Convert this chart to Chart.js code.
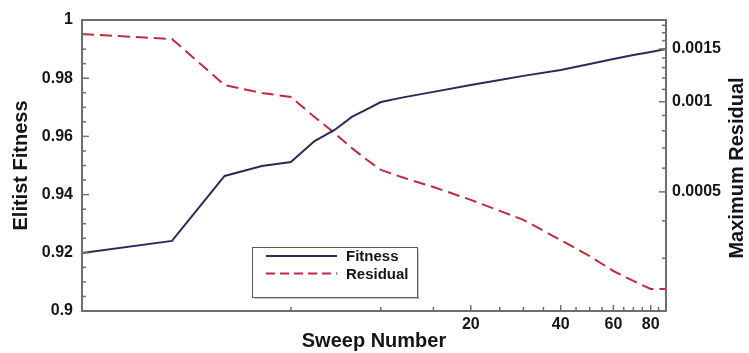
<!DOCTYPE html>
<html>
<head>
<meta charset="utf-8">
<script src="https://cdn.jsdelivr.net/npm/chart.js@4.4.0/dist/chart.umd.min.js"></script>
<style>
  html, body { margin: 0; padding: 0; background: #fff; }
</style>
</head>
<body>
<canvas id="myChart" width="749" height="353"></canvas>
<script>
// sweep numbers (x axis, log scale)
const sweeps = [1, 2, 3, 4, 5, 6, 7, 8, 9, 10, 12, 15, 20, 25, 30, 40, 50, 60, 70, 80, 90];
// elitist fitness (left axis)
const fitness = [0.9199, 0.9241, 0.9464, 0.9498, 0.9512, 0.9584, 0.9622, 0.9667, 0.9694, 0.9718,
                 0.9735, 0.9753, 0.9777, 0.9794, 0.9808, 0.9828, 0.9849, 0.9866, 0.988, 0.989, 0.99];
// maximum residual (right axis, log scale)
const residual = [0.001683, 0.00162, 0.001137, 0.00107, 0.001037, 0.000889, 0.000786, 0.0007, 0.000639, 0.000592,
                  0.000556, 0.000519, 0.00047, 0.000432, 0.000403, 0.000345, 0.000305, 0.000272, 0.000252, 0.000237, 0.000237];

// tick labels
const fitnessTicks = [0.9, 0.92, 0.94, 0.96, 0.98, 1];
const residualTicks = [0.0005, 0.001, 0.0015];
const sweepTicks = [20, 40, 60, 80];
// small unlabeled ticks
const fitnessMinor = [0.905, 0.91, 0.915, 0.925, 0.93, 0.935, 0.945, 0.95, 0.955,
                      0.965, 0.97, 0.975, 0.985, 0.99, 0.995];
const residualMinor = [0.0002, 0.0003, 0.0004, 0.0006, 0.0007, 0.0008, 0.0009,
                       0.0011, 0.0012, 0.0013, 0.0014, 0.0016, 0.0017, 0.0018];
const sweepMinor = [5, 10, 15, 25, 30, 35, 45, 50, 55, 65, 70, 75, 85];

const FONT = "'Liberation Sans', Arial, sans-serif";
const AXIS = '#6e6e6e';
const TEXT = '#151515';

// frame, inward ticks, legend box and right-hand title
const decor = {
  id: 'decor',
  afterDraw(chart) {
    const ctx = chart.ctx;
    const a = chart.chartArea;
    const sx = chart.scales.x, sy = chart.scales.y, sy2 = chart.scales.y2;
    ctx.save();

    ctx.strokeStyle = AXIS;
    ctx.lineWidth = 1.5;
    const tick = (x1, y1, x2, y2) => { ctx.beginPath(); ctx.moveTo(x1, y1); ctx.lineTo(x2, y2); ctx.stroke(); };
    fitnessTicks.forEach(v => { const y = sy.getPixelForValue(v); tick(a.left, y, a.left + 7, y); });
    fitnessMinor.forEach(v => { const y = sy.getPixelForValue(v); tick(a.left, y, a.left + 4, y); });
    residualTicks.forEach(v => { const y = sy2.getPixelForValue(v); tick(a.right, y, a.right - 7, y); });
    residualMinor.forEach(v => { const y = sy2.getPixelForValue(v); tick(a.right, y, a.right - 4, y); });
    sweepTicks.forEach(v => { const x = sx.getPixelForValue(v); tick(x, a.bottom, x, a.bottom - 6); });
    sweepMinor.forEach(v => { const x = sx.getPixelForValue(v); tick(x, a.bottom, x, a.bottom - 4); });

    ctx.lineWidth = 2;
    ctx.strokeRect(a.left, a.top, a.right - a.left, a.bottom - a.top);

    // legend
    const lx = 252, ly = 247, lw = 165, lh = 50;
    ctx.fillStyle = '#fff';
    ctx.fillRect(lx, ly, lw, lh);
    ctx.fillStyle = '#9a9a9a';
    ctx.fillRect(lx + 2, ly + lh, lw, 1.5);
    ctx.fillRect(lx + lw, ly + 2, 1.5, lh);
    ctx.strokeStyle = '#5a5a5a';
    ctx.lineWidth = 1;
    ctx.strokeRect(lx + 0.5, ly + 0.5, lw, lh);
    chart.data.datasets.forEach((ds, i) => {
      const y = 256 + i * 17.5;
      ctx.strokeStyle = ds.borderColor;
      ctx.lineWidth = 2;
      ctx.setLineDash(ds.borderDash ? [9, 5] : []);
      tick(266, y, 337, y);
      ctx.setLineDash([]);
      ctx.fillStyle = TEXT;
      ctx.font = 'bold 15px ' + FONT;
      ctx.textAlign = 'left';
      ctx.textBaseline = 'middle';
      ctx.fillText(ds.label, 346, y + 1);
    });

    // right axis title reads bottom to top
    ctx.translate(737, 168);
    ctx.rotate(-Math.PI / 2);
    ctx.fillStyle = TEXT;
    ctx.font = 'bold 20px ' + FONT;
    ctx.textAlign = 'center';
    ctx.textBaseline = 'middle';
    ctx.fillText('Maximum Residual', 0, 0);
    ctx.restore();
  }
};

const tickFont = { family: FONT, size: 16, weight: 'bold' };

new Chart(document.getElementById('myChart').getContext('2d'), {
  type: 'line',
  data: {
    datasets: [
      {
        label: 'Fitness',
        data: sweeps.map((s, i) => ({ x: s, y: fitness[i] })),
        yAxisID: 'y',
        borderColor: '#2c295a',
        borderWidth: 2,
        pointRadius: 0,
        tension: 0
      },
      {
        label: 'Residual',
        data: sweeps.map((s, i) => ({ x: s, y: residual[i] })),
        yAxisID: 'y2',
        borderColor: '#c32a3a',
        borderWidth: 2,
        borderDash: [12, 6],
        pointRadius: 0,
        tension: 0
      }
    ]
  },
  options: {
    responsive: false,
    animation: false,
    devicePixelRatio: 1,
    layout: { padding: { top: 20, left: 0, right: 0, bottom: 0 } },
    plugins: { legend: { display: false }, tooltip: { enabled: false } },
    scales: {
      x: {
        type: 'logarithmic',
        position: 'bottom',
        min: 1,
        max: 90,
        grid: { display: false, drawTicks: false },
        border: { display: false },
        afterBuildTicks: s => { s.ticks = sweepTicks.map(v => ({ value: v })); },
        afterFit: s => { s.height = 42; },
        ticks: { padding: 4, color: TEXT, font: tickFont, maxRotation: 0, autoSkip: false,
                 callback: v => String(v) },
        title: { display: true, text: 'Sweep Number', color: TEXT,
                 font: { family: FONT, size: 20, weight: 'bold' }, padding: { top: 0, bottom: 0 } }
      },
      y: {
        type: 'linear',
        position: 'left',
        min: 0.9,
        max: 1,
        grid: { display: false, drawTicks: false },
        border: { display: false },
        afterBuildTicks: s => { s.ticks = fitnessTicks.map(v => ({ value: v })); },
        afterFit: s => { s.width = 82; },
        ticks: { padding: 9, color: TEXT, font: tickFont,
                 callback: v => String(Number(v.toFixed(2))) },
        title: { display: true, text: 'Elitist Fitness', color: TEXT,
                 font: { family: FONT, size: 20, weight: 'bold' }, padding: { top: 9, bottom: 0 } }
      },
      y2: {
        type: 'logarithmic',
        position: 'right',
        min: 0.0002,
        max: 0.001875,
        grid: { display: false, drawTicks: false },
        border: { display: false },
        afterBuildTicks: s => { s.ticks = residualTicks.map(v => ({ value: v })); },
        afterFit: s => { s.width = 83; },
        ticks: { padding: 6, color: TEXT, font: tickFont,
                 callback: v => String(Number(v.toFixed(4))) }
      }
    }
  },
  plugins: [decor]
});
</script>
</body>
</html>
